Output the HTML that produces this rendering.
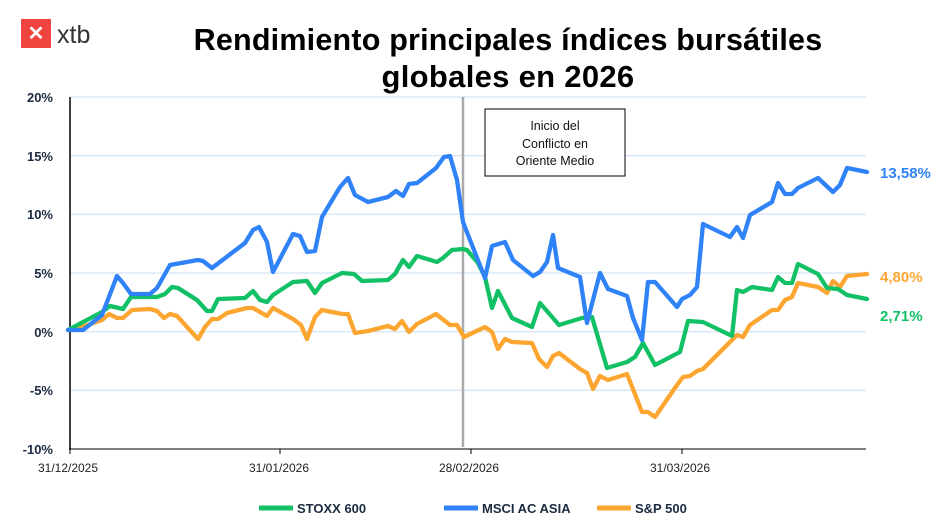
<!DOCTYPE html>
<html><head><meta charset="utf-8"><style>
body{margin:0;background:#fff;}
svg{display:block;font-family:"Liberation Sans",sans-serif;}
</style></head><body>
<svg width="941" height="530" viewBox="0 0 941 530" xmlns="http://www.w3.org/2000/svg">
<rect x="21" y="19" width="30" height="29" fill="#f0443f"/>
<text x="36" y="40" font-size="20" font-weight="bold" fill="#fff" text-anchor="middle">✕</text>
<text x="57" y="43" font-size="25" fill="#333">xtb</text>
<text x="508" y="50" font-size="30.5" font-weight="bold" text-anchor="middle" fill="#000" letter-spacing="0.2">Rendimiento principales índices bursátiles</text>
<text x="508" y="87" font-size="31" font-weight="bold" text-anchor="middle" fill="#000" letter-spacing="0.3">globales en 2026</text>
<g stroke="#c9ddf0" stroke-width="1">
<line x1="70" y1="97" x2="866" y2="97"/><line x1="70" y1="155.7" x2="866" y2="155.7"/>
<line x1="70" y1="214.3" x2="866" y2="214.3"/><line x1="70" y1="273" x2="866" y2="273"/>
<line x1="70" y1="331.7" x2="866" y2="331.7"/><line x1="70" y1="390.3" x2="866" y2="390.3"/>
</g>
<g font-size="13" font-weight="bold" fill="#1c2a40" text-anchor="end">
<text x="53" y="102">20%</text><text x="53" y="161">15%</text><text x="53" y="219">10%</text>
<text x="53" y="278">5%</text><text x="53" y="337">0%</text><text x="53" y="395">-5%</text><text x="53" y="454">-10%</text>
</g>
<line x1="70" y1="97" x2="70" y2="450" stroke="#000" stroke-width="1.5"/>
<line x1="69" y1="449" x2="866" y2="449" stroke="#000" stroke-width="1"/>
<g stroke="#000"><line x1="70" y1="449" x2="70" y2="454"/><line x1="280" y1="449" x2="280" y2="454"/><line x1="471" y1="449" x2="471" y2="454"/><line x1="682" y1="449" x2="682" y2="454"/></g>
<g font-size="12" fill="#222" text-anchor="middle">
<text x="68" y="472">31/12/2025</text><text x="279" y="472">31/01/2026</text><text x="469" y="472">28/02/2026</text><text x="680" y="472">31/03/2026</text>
</g>
<line x1="463" y1="97" x2="463" y2="447" stroke="#aaa" stroke-width="2.5"/>
<rect x="485" y="109" width="140" height="67" fill="#fff" stroke="#000" stroke-width="1"/>
<g font-size="12.5" text-anchor="middle" fill="#111"><text x="555" y="130">Inicio del</text><text x="555" y="148">Conflicto en</text><text x="555" y="165">Oriente Medio</text></g>
<g fill="none" stroke-width="4.3" stroke-linejoin="round" stroke-linecap="round">
<polyline stroke="#fca631" points="68,330 82,327 102,320 109,314 117,318 123,318 132,310 150,309 157,311 164,318 170,314 177,316 198,339 205,327 212,319 218,319 227,313 247,308 253,308 260,312 267,316 273,308 293,319 301,325 307,339 315,317 322,310 342,314 348,314 355,333 368,331 388,326 395,329 402,321 409,332 417,324 436,314 450,325 457,325 464,337 485,327 492,332 498,349 505,339 512,342 532,343 539,359 547,367 553,356 559,353 580,369 587,373 593,389 600,376 608,380 627,374 642,412 648,412 655,417 677,385 683,377 690,376 697,371 703,369 737,335 743,337 750,325 772,310 778,310 785,300 792,297 798,283 818,287 827,293 833,281 840,287 847,276 867,274"/>
<polyline stroke="#12c065" points="68,330 102,312 110,306 123,309 131,297 157,297 165,294 172,287 178,288 197,300 207,311 212,311 218,299 245,298 253,291 260,300 267,302 273,295 293,282 307,281 315,293 322,283 342,273 354,274 362,281 388,280 395,274 403,260 409,267 417,256 437,262 443,258 452,250 463,249 467,250 478,263 485,277 492,308 498,291 512,318 532,327 540,303 559,325 582,318 592,317 607,368 627,362 635,357 643,343 655,365 680,352 688,321 703,322 732,336 737,290 743,292 752,287 772,290 778,277 785,283 792,283 798,264 818,274 827,288 838,289 847,295 867,299"/>
<polyline stroke="#2f82f7" points="68,330 83,330 102,315 117,276 123,283 131,294 150,294 157,288 170,265 198,260 203,261 212,268 245,243 253,230 259,227 267,242 273,272 293,234 300,236 307,252 315,251 322,217 340,187 348,178 355,195 368,202 388,197 396,191 403,196 409,184 417,183 436,168 444,157 450,156 457,180 463,222 472,245 485,278 492,246 505,242 513,260 533,276 540,272 547,262 553,235 558,268 580,277 587,323 600,273 608,289 627,296 633,318 642,340 648,282 655,282 677,307 682,299 690,295 697,287 703,224 730,237 737,227 743,238 750,215 772,202 778,183 785,194 792,194 798,188 818,178 833,192 840,185 847,168 867,172"/>
</g>
<g font-size="15" font-weight="bold">
<text x="880" y="178" fill="#2f82f7">13,58%</text>
<text x="880" y="282" fill="#fca631">4,80%</text>
<text x="880" y="321" fill="#12c065">2,71%</text>
</g>
<g font-size="13" font-weight="bold" fill="#1c2a40">
<line x1="259" y1="508" x2="293" y2="508" stroke="#12c065" stroke-width="5"/><text x="297" y="513">STOXX 600</text>
<line x1="444" y1="508" x2="478" y2="508" stroke="#2f82f7" stroke-width="5"/><text x="482" y="513">MSCI AC ASIA</text>
<line x1="597" y1="508" x2="631" y2="508" stroke="#fca631" stroke-width="5"/><text x="635" y="513">S&amp;P 500</text>
</g>
</svg>
</body></html>
